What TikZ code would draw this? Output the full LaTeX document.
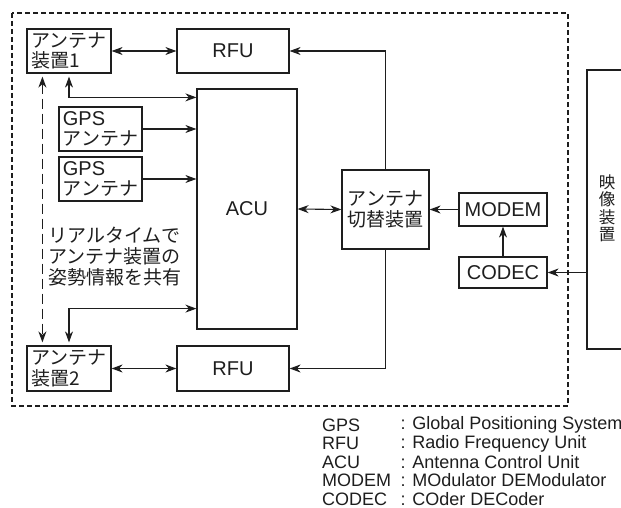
\documentclass[tikz,border=0pt]{standalone}
\usepackage{fontspec}
\setmainfont{Liberation Sans}
\newfontfamily\jpfont{Noto Sans CJK JP}
\usetikzlibrary{arrows.meta,calc}
\definecolor{ink}{RGB}{30,30,30}
\begin{document}
\begin{tikzpicture}[x=1pt,y=-1pt,
  every node/.style={text=ink},
  box/.style={draw=ink,line width=1.2pt,inner sep=0pt},
  lat/.style={font=\fontsize{20}{22}\selectfont},
  jp/.style={font=\jpfont\fontsize{19}{20.5}\selectfont},
  legend/.style={font=\fontsize{18}{18}\selectfont,anchor=west,inner sep=0pt},
  conn/.style={draw=ink,line width=1.1pt},
  tip/.style={-{Stealth[length=11pt,width=8pt,inset=3.5pt]}},
  dtip/.style={{Stealth[length=11pt,width=8pt,inset=3.5pt]}-{Stealth[length=11pt,width=8pt,inset=3.5pt]}},
  frame/.style={draw=ink,line width=1.1pt,dash pattern=on 5pt off 3pt},
  longdash/.style={dash pattern=on 10pt off 5pt}
]
\useasboundingbox (0,0) rectangle (621,508);

% outer dashed frame
\path[frame] (12,13) rectangle (568,406);

% boxes
\node[box,jp,align=left,minimum width=84pt,minimum height=44pt] (ant1) at (69,51) {アンテナ\\装置1};
\node[box,lat,minimum width=112pt,minimum height=44pt] (rfu1) at (233,51) {RFU};
\node[box,lat,minimum width=100pt,minimum height=240pt] (acu) at (247,209) {ACU};
\node[box,jp,align=left,minimum width=83pt,minimum height=44pt] (gps1) at (100.5,129) {{\rmfamily\fontsize{20}{20}\selectfont GPS}\\アンテナ};
\node[box,jp,align=left,minimum width=83pt,minimum height=44pt] (gps2) at (100.5,179) {{\rmfamily\fontsize{20}{20}\selectfont GPS}\\アンテナ};
\node[box,jp,align=left,minimum width=84pt,minimum height=45pt] (ant2) at (69,368.5) {アンテナ\\装置2};
\node[box,lat,minimum width=112pt,minimum height=45pt] (rfu2) at (233,368.5) {RFU};
\node[box,jp,align=center,minimum width=87pt,minimum height=79pt] (sw) at (385.5,209.5) {アンテナ\\切替装置};
\node[box,lat,minimum width=88pt,minimum height=33pt] (modem) at (503,209.5) {MODEM};
\node[box,lat,minimum width=88pt,minimum height=31pt] (codec) at (503,272.5) {CODEC};
\node[box,minimum width=73pt,minimum height=279pt] (vid) at (623.5,209.5) {};
\node[font=\jpfont\fontsize{16.5}{17.5}\selectfont,align=center,inner sep=0pt] (vidtext) at (607,208.5) {映\\像\\装\\置};

% note text
\node[font=\jpfont\fontsize{19}{21}\selectfont,align=left,anchor=west,inner sep=0pt] (note) at (48,257) {リアルタイムで\\アンテナ装置の\\姿勢情報を共有};

% connectors
\draw[conn,dtip] (ant1.east) -- (rfu1.west);
\draw[conn,dtip] (ant2.east) -- (rfu2.west);
\draw[conn,tip] (sw.north) |- (rfu1.east);
\draw[conn,tip] (sw.south) |- (rfu2.east);
\draw[conn,dtip] (acu.east) -- (sw.west);
\draw[conn,tip] (modem.west) -- (sw.east);
\draw[conn,tip] (codec.north) -- (modem.south);
\draw[conn,tip] (codec.east -| vid.west) -- (codec.east);
\draw[conn,tip] (gps1.east) -- (gps1.east -| acu.west);
\draw[conn,tip] (gps2.east) -- (gps2.east -| acu.west);
\draw[conn,dtip,shorten <=3pt] (ant1.south) |- ($(acu.north west)+(0,9)$);
\draw[conn,dtip,shorten <=3pt] (ant2.north) |- ($(acu.south west)+(0,-21)$);
\draw[conn,dtip,longdash,shorten <=3pt,shorten >=3pt] ($(ant1.south west)+(16,0)$) -- ($(ant2.north west)+(16,0)$);

% legend
\node[legend] (lg1a) at (322,425) {GPS};
\node[legend] (lg1b) at (400.5,425) {: Global Positioning System};
\node[legend] (lg2a) at (322,443.5) {RFU};
\node[legend] (lg2b) at (400.5,443.5) {: Radio Frequency Unit};
\node[legend] (lg3a) at (322,462) {ACU};
\node[legend] (lg3b) at (400.5,462) {: Antenna Control Unit};
\node[legend] (lg4a) at (322,480.5) {MODEM};
\node[legend] (lg4b) at (400.5,480.5) {: MOdulator DEModulator};
\node[legend] (lg5a) at (322,499) {CODEC};
\node[legend] (lg5b) at (400.5,499) {: COder DECoder};
\end{tikzpicture}
\end{document}
